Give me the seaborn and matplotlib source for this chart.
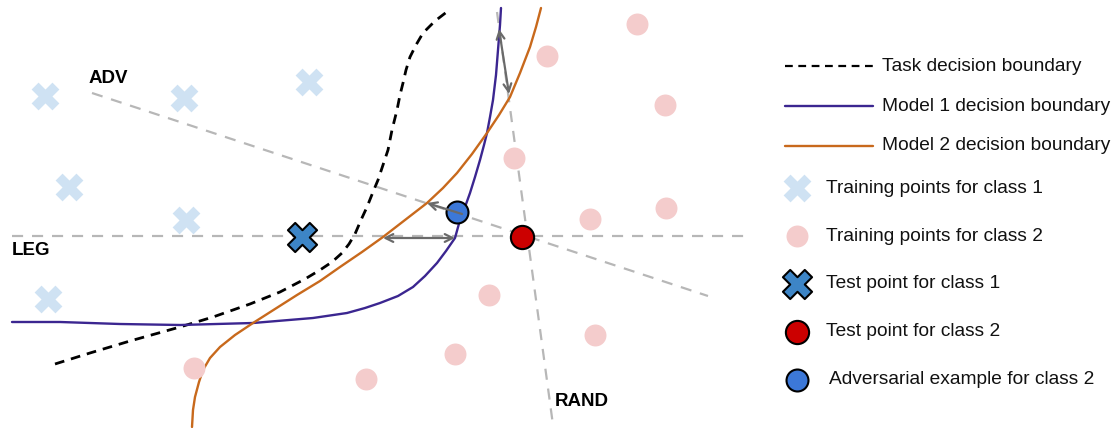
import numpy as np
import pandas as pd
import matplotlib
matplotlib.use("Agg")
import matplotlib.pyplot as plt
import seaborn as sns

# coordinates in picture pixels (y grows downward)
train1_x = [45, 184, 309, 69, 186, 48]
train1_y = [96, 98, 82, 187, 220, 299]
train2_x = [547, 637, 665, 514, 590, 666, 489, 595, 455, 366, 194]
train2_y = [56, 24, 105, 158, 219, 208, 295, 335, 354, 379, 368]
test1_x, test1_y = [302], [237]
test2_x, test2_y = [522], [237]
adv_x, adv_y = [457], [212]

task_x = [55, 90, 130, 180, 213, 250, 280, 305, 320, 332, 342, 349, 355, 361, 367, 373, 378, 383, 388, 392, 397, 400, 403, 406, 410, 416, 423, 435, 448]
task_y = [364, 353, 341, 327, 317, 304, 292, 279, 270, 262, 253, 244, 234, 220, 207, 192, 180, 165, 150, 130, 110, 95, 83, 70, 57, 45, 33, 21, 11]
m1_x = [12, 60, 120, 180, 253, 313, 347, 365, 380, 398, 413, 425, 437, 446, 455, 460, 465, 470, 475, 480, 484, 487, 490, 493, 496, 498, 500, 501]
m1_y = [322, 322, 324, 325, 323, 318, 313, 308, 303, 296, 287, 276, 263, 251, 238, 220, 207, 193, 177, 160, 145, 133, 117, 100, 75, 50, 25, 8]
m2_x = [192, 193, 195, 199, 203, 210, 220, 235, 253, 275, 297, 320, 340, 362, 383, 405, 427, 443, 457, 472, 487, 499, 510, 520, 530, 536, 541]
m2_y = [427, 410, 397, 382, 370, 358, 347, 335, 323, 309, 295, 281, 267, 252, 237, 220, 203, 188, 173, 154, 133, 115, 97, 73, 47, 27, 8]

# attack directions
adv_line_x, adv_line_y = [92, 708], [93, 296]
leg_line_x, leg_line_y = [12, 748], [236, 236]
rand_line_x, rand_line_y = [497, 553], [12, 425]

direction_labels = ["ADV", "LEG", "RAND"]
label_pos = [(89, 78), (12, 250), (555, 402)]

legend_lines = ["Task decision boundary", "Model 1 decision boundary", "Model 2 decision boundary"]
legend_marks = ["Training points for class 1", "Training points for class 2",
                "Test point for class 1", "Test point for class 2",
                "Adversarial example for class 2"]

LIGHT_BLUE = "#cfe2f3"
PINK = "#f4cccc"
BLUE_X = "#3d85c6"
RED = "#cc0000"
BLUE_O = "#3c78d8"
PURPLE = "#3b2690"
ORANGE = "#c8691c"
GREY = "#b7b7b7"
ARROW = "#6a6a6a"

sns.set_style("white")
plt.rcParams["font.family"] = ["Liberation Sans", "DejaVu Sans"]

fig = plt.figure(figsize=(11.17, 4.28), dpi=100)
ax = fig.add_axes([0, 0, 1, 1])

gdash = (0, (5, 4))
for lx, ly in [(adv_line_x, adv_line_y), (leg_line_x, leg_line_y), (rand_line_x, rand_line_y)]:
    ax.plot(lx, ly, color=GREY, lw=1.6, linestyle=gdash, zorder=1)

sns.lineplot(x=task_x, y=task_y, sort=False, estimator=None, ax=ax, color="black",
             lw=2, linestyle=(0, (3.5, 2.5)), zorder=2)
sns.lineplot(x=m1_x, y=m1_y, sort=False, estimator=None, ax=ax, color=PURPLE, lw=1.7, zorder=2)
sns.lineplot(x=m2_x, y=m2_y, sort=False, estimator=None, ax=ax, color=ORANGE, lw=1.7, zorder=2)

sns.scatterplot(x=train1_x, y=train1_y, marker="X", s=400, color=LIGHT_BLUE, linewidth=0, ax=ax, zorder=3)
sns.scatterplot(x=train2_x, y=train2_y, marker="o", s=250, color=PINK, linewidth=0, ax=ax, zorder=3)
sns.scatterplot(x=test1_x, y=test1_y, marker="X", s=440, color=BLUE_X, edgecolor="black", linewidth=1.5, ax=ax, zorder=4)
sns.scatterplot(x=test2_x, y=test2_y, marker="o", s=280, color=RED, edgecolor="black", linewidth=1.5, ax=ax, zorder=4)
sns.scatterplot(x=adv_x, y=adv_y, marker="o", s=250, color=BLUE_O, edgecolor="black", linewidth=1.5, ax=ax, zorder=4)

# arrows
aprops = dict(color=ARROW, lw=1.6, shrinkA=0, shrinkB=0, mutation_scale=14)
ax.annotate("", xy=(427, 203), xytext=(462, 214), arrowprops=dict(arrowstyle="->", **aprops), zorder=5)
ax.annotate("", xy=(383, 238), xytext=(455, 238), arrowprops=dict(arrowstyle="<->", **aprops), zorder=5)
ax.annotate("", xy=(499, 29), xytext=(509, 94), arrowprops=dict(arrowstyle="<->", **aprops), zorder=5)

for lab, (tx, ty) in zip(direction_labels, label_pos):
    ax.text(tx, ty, lab, fontsize=13.5, fontweight="bold", ha="left", va="center", color="black", zorder=6)

# legend drawn by hand
line_styles = [dict(color="black", lw=1.6, linestyle=(0, (3.5, 2.5))),
               dict(color=PURPLE, lw=1.7), dict(color=ORANGE, lw=1.7)]
for i, (lab, st) in enumerate(zip(legend_lines, line_styles)):
    yy = 66 + 40 * i
    ax.plot([785, 873], [yy, yy], **st)
    ax.text(882, yy, lab, fontsize=13.8, ha="left", va="center", color="#111111")

mark_styles = [dict(marker="X", s=400, color=LIGHT_BLUE, linewidth=0),
               dict(marker="o", s=250, color=PINK, linewidth=0),
               dict(marker="X", s=440, color=BLUE_X, edgecolor="black", linewidth=1.5),
               dict(marker="o", s=280, color=RED, edgecolor="black", linewidth=1.5),
               dict(marker="o", s=250, color=BLUE_O, edgecolor="black", linewidth=1.5)]
for i, (lab, st) in enumerate(zip(legend_marks, mark_styles)):
    yy = 188 + 48 * i
    ax.scatter([797], [yy], **st)
    ax.text(826 if i < 4 else 829, yy, lab, fontsize=13.8, ha="left", va="center", color="#111111")

ax.set_xlim(0, 1117)
ax.set_ylim(428, 0)
ax.axis("off")
fig.savefig("out.png", dpi=100)
